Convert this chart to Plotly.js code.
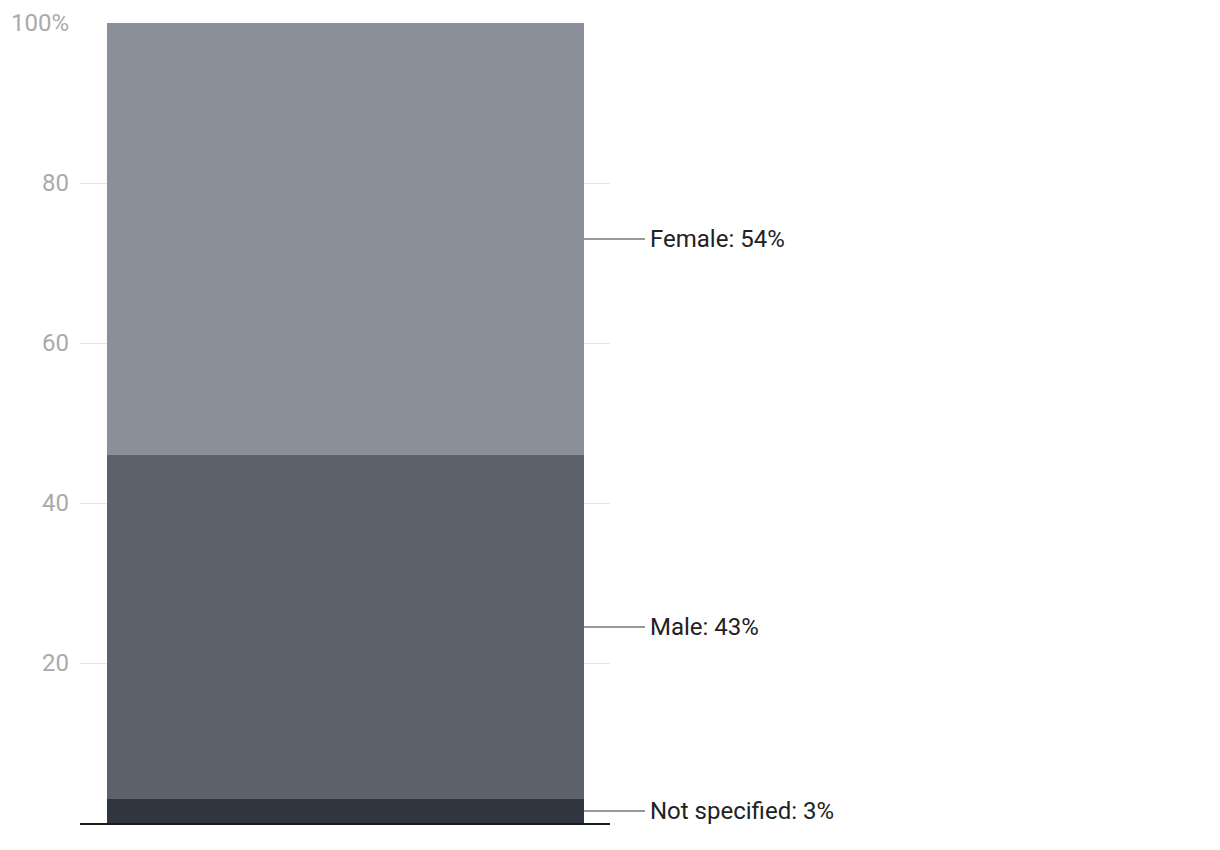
<!DOCTYPE html>
<html>
<head>
<meta charset="utf-8">
<script src="https://cdn.plot.ly/plotly-3.0.1.min.js"></script>
<style>html,body{margin:0;padding:0;background:#fff;}#chart{width:1220px;height:850px;}</style>
</head>
<body>
<div id="chart"></div>
<script>
const categories = ['Gender'];
const segmentNames = ['Not specified', 'Male', 'Female'];
const segmentValues = [3, 43, 54];
const segmentColors = ['#2f363f', '#5c616c', '#8a8f9a'];
const tickValues = [20, 40, 60, 80, 100];
const tickLabels = ['20', '40', '60', '80', '100%'];

const traces = segmentNames.map((n, i) => ({
  type: 'bar', x: categories, y: [segmentValues[i]], name: n,
  marker: {color: segmentColors[i]}, width: 0.9, hoverinfo: 'none'
}));

const shapes = [], annotations = [];
let cum = 0;
segmentValues.forEach((v, i) => {
  const mid = cum + v / 2;
  cum += v;
  shapes.push({type: 'line', xref: 'paper', yref: 'y', x0: 0.951, x1: 1.066, y0: mid, y1: mid,
    line: {color: '#777', width: 1.5}});
  annotations.push({xref: 'paper', yref: 'y', x: 1.071, y: mid, xanchor: 'left', yanchor: 'middle',
    text: segmentNames[i] + ': ' + v + '%', showarrow: false,
    font: {family: 'Roboto', size: 24, color: '#222'}});
});

const layout = {
  width: 1220, height: 850,
  margin: {l: 80, r: 610, t: 23, b: 27},
  barmode: 'stack', showlegend: false,
  paper_bgcolor: '#fff', plot_bgcolor: '#fff',
  font: {family: 'Roboto'},
  xaxis: {showticklabels: false, showgrid: false, zeroline: false, showline: true,
    linecolor: '#1a1a1a', linewidth: 2, range: [-0.5, 0.5]},
  yaxis: {range: [0, 100], tickvals: tickValues, ticktext: tickLabels, showgrid: true,
    gridcolor: '#e4e4e4', gridwidth: 1, zeroline: false, showline: false,
    tickfont: {family: 'Roboto', size: 24, color: '#aaaaaa'}, ticklabelstandoff: 10},
  shapes: shapes, annotations: annotations
};
Plotly.newPlot('chart', traces, layout, {displayModeBar: false, staticPlot: true});
</script>
</body>
</html>
